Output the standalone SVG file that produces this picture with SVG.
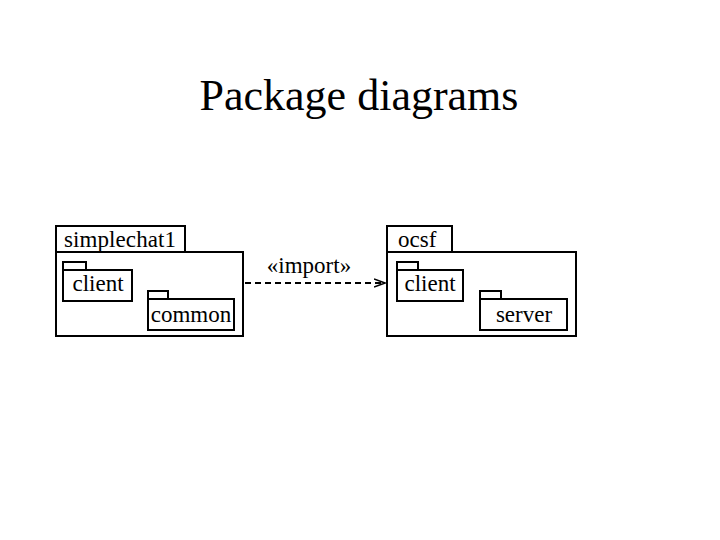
<svg xmlns="http://www.w3.org/2000/svg" width="720" height="540" viewBox="0 0 720 540">
<defs>
<style>
.box{fill:#fff;stroke:#000;stroke-width:2}
text{font-family:"Liberation Serif","Times New Roman",serif;fill:#000}
.lbl{font-size:23px}
.conn{fill:none;stroke:#000;stroke-width:1.8;stroke-dasharray:6,4}
</style>
<marker id="open" viewBox="0 0 12 10" refX="11" refY="5" markerWidth="12" markerHeight="10" markerUnits="userSpaceOnUse" orient="auto">
<path d="M0,1 L11,5 L0,9" fill="none" stroke="#000" stroke-width="1.5"/>
</marker>
</defs>
<rect width="720" height="540" fill="#fff"/>
<text x="359" y="110" font-size="44" text-anchor="middle">Package diagrams</text>
<g id="simplechat1">
<rect class="box" x="56" y="226" width="129" height="26"/>
<rect class="box" x="56" y="252" width="187" height="84"/>
<text class="lbl" x="64" y="247" textLength="112">simplechat1</text>
</g>
<g id="client1">
<rect class="box" x="63" y="262" width="23" height="8"/>
<rect class="box" x="63" y="270" width="69" height="31"/>
<text class="lbl" x="98" y="291" text-anchor="middle">client</text>
</g>
<g id="common">
<rect class="box" x="148" y="291" width="20" height="8"/>
<rect class="box" x="148" y="299" width="86" height="31"/>
<text class="lbl" x="191" y="322" text-anchor="middle">common</text>
</g>
<g id="ocsf">
<rect class="box" x="387" y="226" width="65" height="26"/>
<rect class="box" x="387" y="252" width="189" height="84"/>
<text class="lbl" x="398" y="247">ocsf</text>
</g>
<g id="client2">
<rect class="box" x="397" y="262" width="21" height="8"/>
<rect class="box" x="397" y="270" width="66" height="31"/>
<text class="lbl" x="430" y="291" text-anchor="middle">client</text>
</g>
<g id="server">
<rect class="box" x="480" y="291" width="21" height="8"/>
<rect class="box" x="480" y="299" width="87" height="31"/>
<text class="lbl" x="524" y="322" text-anchor="middle">server</text>
</g>
<g id="connectors">
<line class="conn" x1="245" y1="283" x2="385" y2="283" marker-end="url(#open)"/>
<text class="lbl" x="309" y="273" text-anchor="middle">«import»</text>
</g>
</svg>
